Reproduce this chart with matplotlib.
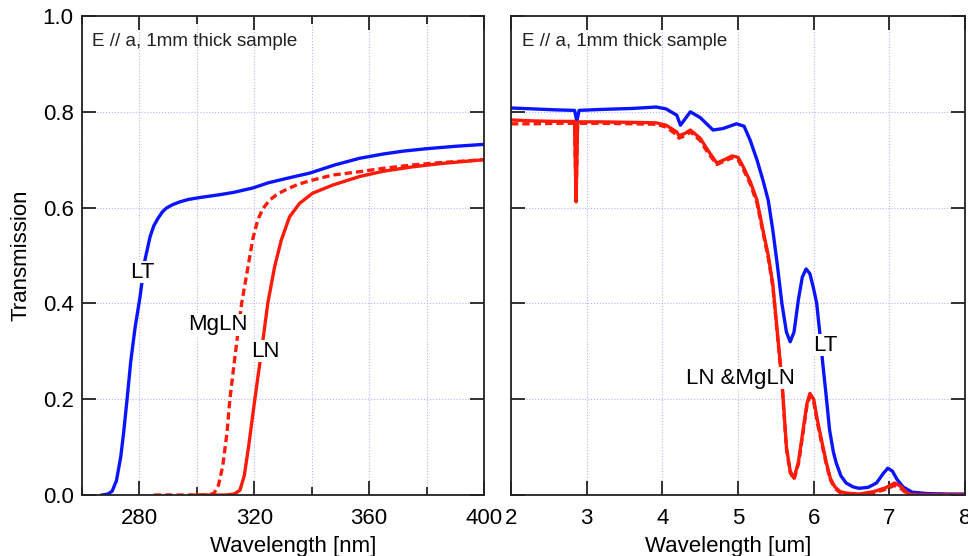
"""
Transmission spectra of LT / LN / MgLN, E // a, 1 mm thick samples.
UV edge (left) and IR edge (right).
"""

import matplotlib.pyplot as plt
from matplotlib.ticker import MultipleLocator

plt.rcParams['font.family'] = ['Liberation Sans', 'DejaVu Sans']

# === DATA ===
# UV panel, wavelength in nm
uv_lt_x = [267, 269, 270.5, 272, 273.5, 274.5, 275.7, 277, 278.5, 280.2, 281.9,
           283.7, 285, 286.5, 288, 289.4, 291.5, 294.1, 297, 301, 308, 313, 319.5,
           325, 332, 339.3, 348, 356.7, 365, 372, 380, 390, 400]
uv_lt_y = [0.0, 0.002, 0.008, 0.03, 0.08, 0.13, 0.20, 0.28, 0.35, 0.413, 0.49,
           0.539, 0.562, 0.578, 0.591, 0.599, 0.606, 0.612, 0.617, 0.621, 0.627,
           0.632, 0.641, 0.652, 0.662, 0.672, 0.689, 0.703, 0.712, 0.718, 0.723,
           0.728, 0.732]

uv_mgln_x = [285, 290, 295, 300, 304, 306, 307.5, 309, 310.5, 311.5, 313.5, 315.6,
             317.8, 319.5, 321.2, 323, 325.4, 328, 331.2, 335, 339.3, 347.3, 356.7,
             365, 375, 385, 400]
uv_mgln_y = [0.0, 0.0, 0.0, 0.0, 0.0, 0.004, 0.02, 0.06, 0.13, 0.20, 0.30, 0.40,
             0.476, 0.535, 0.574, 0.598, 0.616, 0.628, 0.638, 0.648, 0.656, 0.668,
             0.675, 0.682, 0.689, 0.694, 0.70]

uv_ln_x = [300, 305, 310, 313, 315, 316.5, 318, 320.2, 322.5, 324.7, 327.1, 329.4,
           332.3, 335.8, 340.3, 347.3, 356.7, 365, 375, 385, 400]
uv_ln_y = [0.0, 0.0, 0.0, 0.002, 0.01, 0.04, 0.10, 0.20, 0.30, 0.40, 0.477, 0.532,
           0.581, 0.609, 0.63, 0.647, 0.665, 0.676, 0.685, 0.692, 0.70]

# IR panel, wavelength in um
ir_lt_x = [2.0, 2.3, 2.6, 2.84, 2.87, 2.9, 3.2, 3.6, 3.92, 4.05, 4.19, 4.24, 4.3,
           4.37, 4.5, 4.67, 4.8, 4.98, 5.08, 5.16, 5.25, 5.33, 5.4, 5.46, 5.52,
           5.58, 5.64, 5.69, 5.74, 5.8, 5.85, 5.9, 5.95, 6.0, 6.04, 6.08, 6.12,
           6.17, 6.21, 6.26, 6.3, 6.36, 6.43, 6.52, 6.6, 6.72, 6.83, 6.92, 6.98,
           7.04, 7.1, 7.18, 7.3, 7.5, 7.8, 8.0]
ir_lt_y = [0.808, 0.806, 0.804, 0.803, 0.78, 0.803, 0.805, 0.807, 0.81, 0.806,
           0.793, 0.772, 0.785, 0.80, 0.788, 0.762, 0.765, 0.775, 0.77, 0.741,
           0.70, 0.657, 0.615, 0.553, 0.48, 0.40, 0.34, 0.32, 0.34, 0.41, 0.455,
           0.472, 0.462, 0.43, 0.40, 0.34, 0.275, 0.2, 0.136, 0.09, 0.066, 0.04,
           0.025, 0.017, 0.014, 0.016, 0.025, 0.045, 0.056, 0.05, 0.033, 0.017,
           0.006, 0.003, 0.002, 0.002]

ir_ln_x = [2.0, 2.3, 2.6, 2.84, 2.86, 2.88, 3.2, 3.6, 3.92, 4.05, 4.19, 4.22, 4.3,
           4.37, 4.5, 4.6, 4.72, 4.82, 4.92, 5.0, 5.07, 5.16, 5.25, 5.33, 5.4,
           5.46, 5.52, 5.58, 5.64, 5.69, 5.74, 5.8, 5.86, 5.91, 5.95, 6.0, 6.05,
           6.11, 6.17, 6.22, 6.28, 6.35, 6.43, 6.6, 6.79, 6.95, 7.07, 7.15, 7.25,
           7.4, 7.7, 8.0]
ir_ln_y = [0.783, 0.781, 0.78, 0.78, 0.612, 0.779, 0.779, 0.778, 0.777, 0.772,
           0.758, 0.75, 0.755, 0.762, 0.745, 0.72, 0.693, 0.70, 0.708, 0.705, 0.685,
           0.655, 0.616, 0.553, 0.50, 0.44, 0.34, 0.24, 0.10, 0.05, 0.035, 0.07,
           0.136, 0.19, 0.212, 0.2, 0.156, 0.11, 0.066, 0.035, 0.017, 0.007, 0.004,
           0.002, 0.007, 0.015, 0.025, 0.018, 0.002, 0.0, 0.0, 0.0]

ir_mgln_x = [2.0, 2.3, 2.6, 2.84, 2.86, 2.88, 3.2, 3.6, 3.92, 4.05, 4.19, 4.22, 4.3,
             4.37, 4.5, 4.6, 4.72, 4.82, 4.92, 5.0, 5.07, 5.16, 5.25, 5.33, 5.4,
             5.46, 5.52, 5.58, 5.64, 5.69, 5.74, 5.8, 5.86, 5.91, 5.95, 6.0, 6.05,
             6.11, 6.17, 6.22, 6.28, 6.35, 6.43, 6.6, 6.79, 6.95, 7.07, 7.15, 7.25,
             7.4, 7.7, 8.0]
ir_mgln_y = [0.775, 0.775, 0.776, 0.776, 0.62, 0.776, 0.776, 0.775, 0.774, 0.768,
             0.752, 0.745, 0.75, 0.758, 0.74, 0.715, 0.69, 0.697, 0.704, 0.70, 0.68,
             0.65, 0.61, 0.548, 0.495, 0.435, 0.335, 0.235, 0.097, 0.047, 0.032,
             0.066, 0.13, 0.185, 0.206, 0.195, 0.15, 0.105, 0.062, 0.032, 0.014,
             0.005, 0.002, 0.0, 0.004, 0.012, 0.02, 0.014, 0.0, 0.0, 0.0, 0.0]

BLUE = '#0a14ff'
RED = '#ff1a0a'
GRID = '#b4b4ff'
LW = 2.4
FS = 16


def style_axes(ax):
    ax.set_ylim(0, 1.0)
    ax.yaxis.set_major_locator(MultipleLocator(0.2))
    ax.grid(True, which='both', color=GRID, linestyle=':', linewidth=0.8)
    ax.tick_params(which='both', direction='in', top=True, right=True,
                   labelsize=FS, width=1.3, color='#222222')
    ax.tick_params(axis='x', which='both', pad=9)
    ax.tick_params(axis='y', which='both', pad=6)
    ax.tick_params(which='major', length=10)
    ax.tick_params(which='minor', length=6)
    for sp in ax.spines.values():
        sp.set_linewidth(1.3)
        sp.set_color('#222222')
    ax.text(0.025, 0.965, 'E // a, 1mm thick sample', transform=ax.transAxes,
            fontsize=13.5, va='top', ha='left', color='#222222')


fig = plt.figure(figsize=(9.68, 5.56), dpi=100)
ax1 = fig.add_axes([0.0847, 0.1097, 0.4153, 0.8615])
ax2 = fig.add_axes([0.5279, 0.1097, 0.469, 0.8615])

# --- UV edge ---
ax1.plot(uv_lt_x, uv_lt_y, color=BLUE, lw=LW)
ax1.plot(uv_ln_x, uv_ln_y, color=RED, lw=LW)
ax1.plot(uv_mgln_x, uv_mgln_y, color=RED, lw=LW, linestyle=(0, (2.2, 1.2)))
ax1.set_xlim(260, 400)
ax1.xaxis.set_major_locator(MultipleLocator(40))
ax1.xaxis.set_minor_locator(MultipleLocator(20))
style_axes(ax1)
ax1.yaxis.set_major_formatter(plt.FormatStrFormatter('%.1f'))
ax1.set_xlabel('Wavelength [nm]', fontsize=FS)
ax1.xaxis.set_label_coords(0.525, -0.085)
ax1.set_ylabel('Transmission', fontsize=FS, labelpad=8)

lbl = dict(fontsize=FS, ha='center', va='center',
           bbox=dict(facecolor='white', edgecolor='none', pad=0.5))
ax1.text(281, 0.465, 'LT', **lbl)
ax1.text(307.3, 0.355, 'MgLN', **lbl)
ax1.text(324, 0.30, 'LN', **lbl)

# --- IR edge ---
ax2.plot(ir_lt_x, ir_lt_y, color=BLUE, lw=LW)
ax2.plot(ir_ln_x, ir_ln_y, color=RED, lw=LW)
ax2.plot(ir_mgln_x, ir_mgln_y, color=RED, lw=LW, linestyle=(0, (2.2, 1.2)))
ax2.set_xlim(2, 8)
ax2.xaxis.set_major_locator(MultipleLocator(1))
style_axes(ax2)
ax2.tick_params(labelleft=False)
ax2.set_xlabel('Wavelength [um]', fontsize=FS)
ax2.xaxis.set_label_coords(0.478, -0.085)
ax2.text(6.15, 0.313, 'LT', **lbl)
ax2.text(5.03, 0.244, 'LN &MgLN', **lbl)

fig.savefig('out.png', dpi=100)
